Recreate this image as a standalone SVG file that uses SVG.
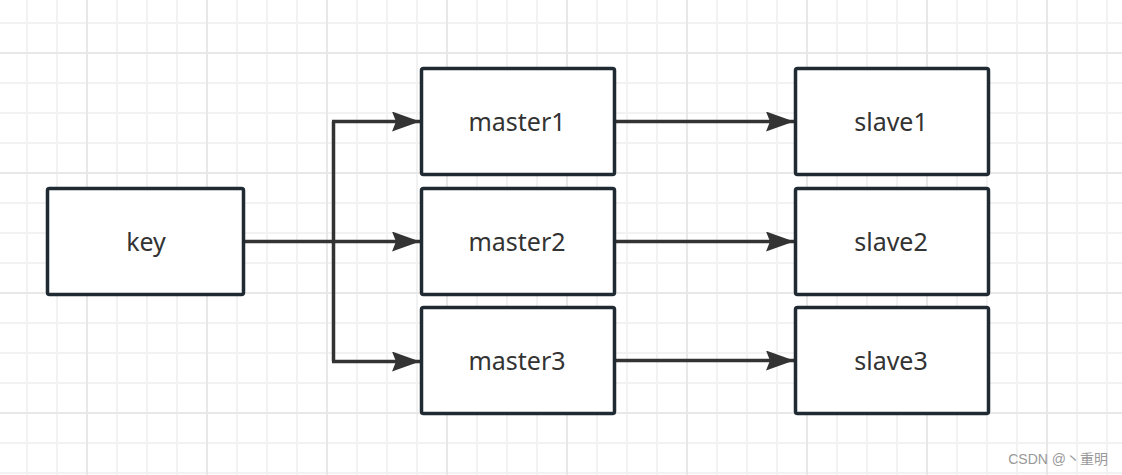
<svg xmlns="http://www.w3.org/2000/svg" width="1122" height="475" viewBox="0 0 1122 475">
<style>
.box{fill:#fff;stroke:#1f2a33;stroke-width:3.5}
.lbl{font-family:"Noto Sans","Open Sans","DejaVu Sans",sans-serif;font-size:25px;fill:#333;text-anchor:middle}
.edge{fill:none;stroke:#333;stroke-width:3.5}
</style>
<defs>
<pattern id="minor" patternUnits="userSpaceOnUse" x="26" y="22" width="30" height="30">
<rect x="0" y="0" width="2" height="30" fill="#f2f2f2"/>
<rect x="0" y="0" width="30" height="2" fill="#f2f2f2"/>
</pattern>
<pattern id="major" patternUnits="userSpaceOnUse" x="86" y="52" width="120" height="120">
<rect x="0" y="0" width="2" height="120" fill="#e8e8e8"/>
<rect x="0" y="0" width="120" height="2" fill="#e8e8e8"/>
</pattern>
<marker id="arr" markerUnits="userSpaceOnUse" markerWidth="30" markerHeight="20" refX="28" refY="10" orient="auto">
<path d="M0,0 L28,10 L0,20 L4,10 Z" fill="#333"/>
</marker>
</defs>
<rect width="1122" height="475" fill="#fff"/>
<rect width="1122" height="475" fill="url(#minor)"/>
<rect width="1122" height="475" fill="url(#major)"/>
<g id="connectors">
<path class="edge" d="M245,241.5 H420" marker-end="url(#arr)"/>
<path class="edge" d="M333.5,121.5 V361.5" />
<path class="edge" d="M332,121.5 H420" marker-end="url(#arr)"/>
<path class="edge" d="M332,361.5 H420" marker-end="url(#arr)"/>
<path class="edge" d="M616,121.5 H794" marker-end="url(#arr)"/>
<path class="edge" d="M616,241.5 H794" marker-end="url(#arr)"/>
<path class="edge" d="M616,360.5 H794" marker-end="url(#arr)"/>
</g>
<g id="key"><rect class="box" x="47.5" y="188.5" width="196" height="106" rx="2"/><text class="lbl" x="146" y="251">key</text></g>
<g id="master1"><rect class="box" x="421.5" y="68.5" width="193" height="106" rx="2"/><text class="lbl" x="517" y="131">master1</text></g>
<g id="master2"><rect class="box" x="421.5" y="188.5" width="193" height="106" rx="2"/><text class="lbl" x="517" y="251">master2</text></g>
<g id="master3"><rect class="box" x="421.5" y="307.5" width="193" height="106" rx="2"/><text class="lbl" x="517" y="370">master3</text></g>
<g id="slave1"><rect class="box" x="795.5" y="68.5" width="193" height="106" rx="2"/><text class="lbl" x="891" y="131">slave1</text></g>
<g id="slave2"><rect class="box" x="795.5" y="188.5" width="193" height="106" rx="2"/><text class="lbl" x="891" y="251">slave2</text></g>
<g id="slave3"><rect class="box" x="795.5" y="307.5" width="193" height="106" rx="2"/><text class="lbl" x="891" y="370">slave3</text></g>
<text x="1108" y="464" text-anchor="end" style="font-family:'Liberation Sans','Noto Sans CJK SC',sans-serif;font-size:14px;fill:#999">CSDN @丶重明</text>
</svg>
